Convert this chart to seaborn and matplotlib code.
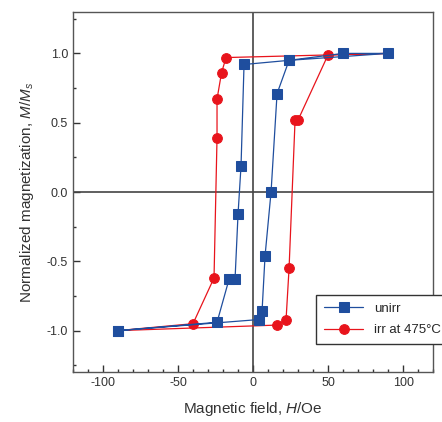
import pandas as pd
import matplotlib
matplotlib.use('Agg')
import matplotlib.pyplot as plt
import seaborn as sns
from matplotlib.ticker import MultipleLocator

# unirradiated loop (ascending branch then descending branch)
unirr_h = [-90, 4, 6, 8, 12, 16, 24, 60, 90, 24, -6, -8, -10, -12, -16, -24, -90]
unirr_m = [-1.0, -0.92, -0.86, -0.46, 0.0, 0.71, 0.95, 1.0, 1.0, 0.95, 0.92,
           0.19, -0.16, -0.63, -0.63, -0.94, -1.0]

# irradiated at 475C
irr_h = [-90, 16, 22, 24, 28, 30, 50, 90, -18, -21, -24, -24, -26, -40, -90]
irr_m = [-1.0, -0.96, -0.92, -0.55, 0.52, 0.52, 0.99, 1.0, 0.97, 0.86, 0.67,
         0.39, -0.62, -0.95, -1.0]

sns.set_style('ticks')
plt.rcParams['font.family'] = ['Liberation Sans', 'DejaVu Sans']
plt.rcParams['mathtext.fontset'] = 'custom'
plt.rcParams['mathtext.it'] = 'Liberation Sans:italic'
plt.rcParams['mathtext.rm'] = 'Liberation Sans'
plt.rcParams['axes.unicode_minus'] = False

fig = plt.figure(figsize=(4.42, 4.22), dpi=100)
ax = fig.add_axes([0.165, 0.118, 0.815, 0.854])

ax.axhline(0, color='#444444', lw=1.2, zorder=1)
ax.axvline(0, color='#444444', lw=1.2, zorder=1)

df_irr = pd.DataFrame({'H': irr_h, 'M': irr_m})
df_un = pd.DataFrame({'H': unirr_h, 'M': unirr_m})

sns.lineplot(data=df_irr, x='H', y='M', sort=False, estimator=None, ax=ax,
             color='#e8141c', lw=0.9, marker='o', markersize=7,
             markeredgecolor='#e8141c', label='irr at 475\u00b0C', zorder=3)
sns.lineplot(data=df_un, x='H', y='M', sort=False, estimator=None, ax=ax,
             color='#1f4e9e', lw=0.9, marker='s', markersize=6.5,
             markeredgecolor='#1f4e9e', label='unirr', zorder=4)

ax.set_xlim(-120, 120)
ax.set_ylim(-1.3, 1.3)
ax.xaxis.set_major_locator(MultipleLocator(50))
ax.xaxis.set_minor_locator(MultipleLocator(10))
ax.yaxis.set_major_locator(MultipleLocator(0.5))
ax.yaxis.set_minor_locator(MultipleLocator(0.25))
ax.set_xticks([-100, -50, 0, 50, 100])
ax.tick_params(which='major', direction='in', length=5, width=1, labelsize=9,
               colors='#333333', labelcolor='#333333')
ax.tick_params(which='minor', direction='in', length=2.5, width=1, colors='#333333')
for s in ax.spines.values():
    s.set_color('#555555')
    s.set_linewidth(1)

ax.set_xlabel(r'Magnetic field, $H$/Oe', fontsize=11, color='#333333', labelpad=8)
ax.set_ylabel(r'Normalized magnetization, $M$/$M_s$', fontsize=11, color='#333333', labelpad=8)

handles, labels = ax.get_legend_handles_labels()
leg = ax.legend(handles[::-1], labels[::-1], loc='lower left',
                bbox_to_anchor=(0.656, 0.059), fontsize=9.5, frameon=True,
                fancybox=False, edgecolor='#333333', framealpha=1,
                handlelength=3, borderpad=0.6, labelspacing=0.7)
leg.get_frame().set_linewidth(1)

fig.savefig('out.png', dpi=100)
